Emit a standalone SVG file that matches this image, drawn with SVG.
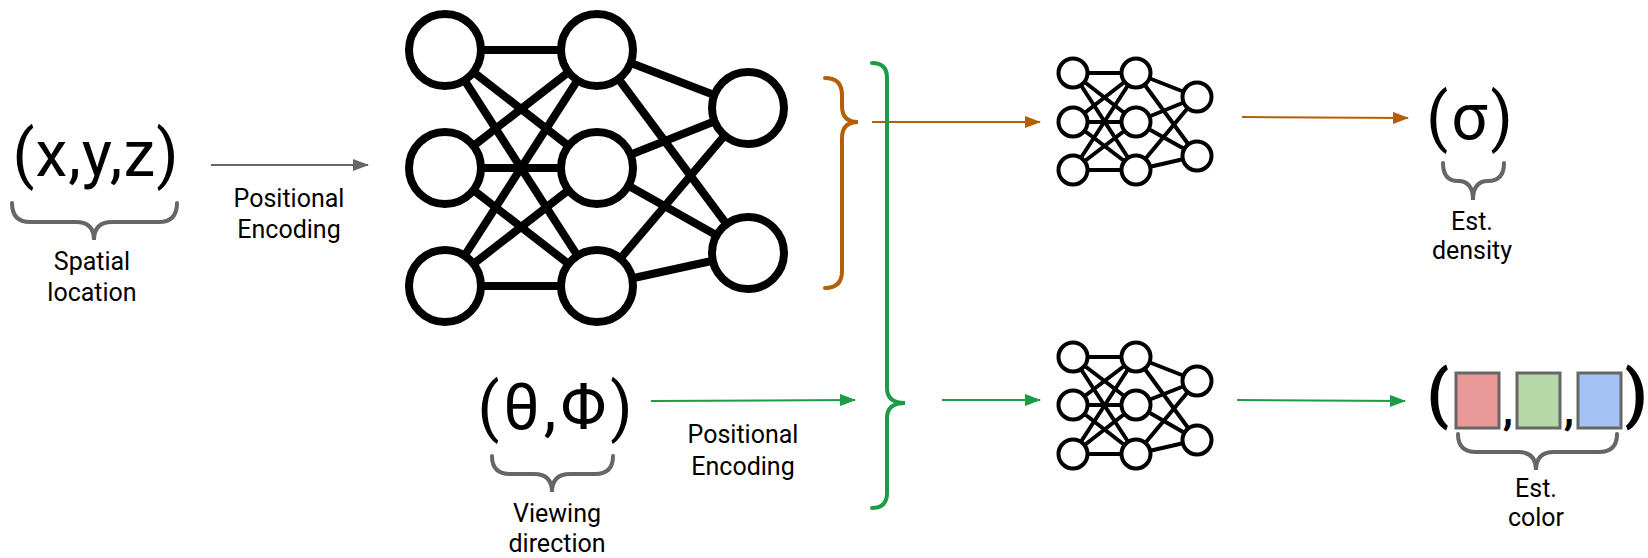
<svg xmlns="http://www.w3.org/2000/svg" width="1648" height="558" viewBox="0 0 1648 558">
<defs>
<style>
.t{font-family:Roboto,"Liberation Sans",sans-serif;fill:#000}
.big{font-size:64px}
.lbl{font-size:25px;text-anchor:middle}
.brace{fill:none;stroke:#666;stroke-width:4;stroke-linecap:round}
.bigE{stroke:#000;stroke-width:8}
.bigN{fill:#fff;stroke:#000;stroke-width:8}
.smE{stroke:#000;stroke-width:4}
.smN{fill:#fff;stroke:#000;stroke-width:4}
.gray{stroke:#666;stroke-width:2;fill:none}
.org{stroke:#b45f06;stroke-width:2;fill:none}
.grn{stroke:#1e9b45;stroke-width:2;fill:none}
.sq{stroke:#666;stroke-width:3}
</style>
<marker id="ag" markerUnits="userSpaceOnUse" markerWidth="16" markerHeight="12" refX="15" refY="6" orient="auto"><path d="M0,0 L16,6 L0,12 Z" fill="#666"/></marker>
<marker id="ao" markerUnits="userSpaceOnUse" markerWidth="16" markerHeight="12" refX="15" refY="6" orient="auto"><path d="M0,0 L16,6 L0,12 Z" fill="#b45f06"/></marker>
<marker id="agr" markerUnits="userSpaceOnUse" markerWidth="16" markerHeight="12" refX="15" refY="6" orient="auto"><path d="M0,0 L16,6 L0,12 Z" fill="#1e9b45"/></marker>
</defs>
<rect width="1648" height="558" fill="#fff"/>

<g id="connectors">
<line class="gray" x1="211" y1="165" x2="368" y2="165" marker-end="url(#ag)"/>
<line class="grn" x1="651" y1="401" x2="855" y2="400" marker-end="url(#agr)"/>
<line class="org" x1="872" y1="122" x2="1040" y2="122" marker-end="url(#ao)"/>
<line class="grn" x1="942" y1="400" x2="1040" y2="400" marker-end="url(#agr)"/>
<line class="org" x1="1242" y1="117" x2="1408" y2="118" marker-end="url(#ao)"/>
<line class="grn" x1="1237" y1="400" x2="1405" y2="401" marker-end="url(#agr)"/>
<text class="t lbl" x="289" y="207">Positional</text>
<text class="t lbl" x="289" y="238">Encoding</text>
<text class="t lbl" x="743" y="443">Positional</text>
<text class="t lbl" x="743" y="475">Encoding</text>
</g>

<g id="xyz">
<text class="t big" x="96" y="176" text-anchor="middle" letter-spacing="1">(x,y,z)</text>
<path class="brace" d="M12,203 Q12,222 30,222 L76,222 Q94,222 94,240 Q94,222 112,222 L159,222 Q177,222 177,203"/>
<text class="t lbl" x="92" y="270">Spatial</text>
<text class="t lbl" x="92" y="301">location</text>
</g>

<g id="big-network">
<g class="bigE">
<line x1="445" y1="50" x2="597" y2="50"/><line x1="445" y1="50" x2="597" y2="168"/><line x1="445" y1="50" x2="597" y2="286"/>
<line x1="445" y1="168" x2="597" y2="50"/><line x1="445" y1="168" x2="597" y2="168"/><line x1="445" y1="168" x2="597" y2="286"/>
<line x1="445" y1="286" x2="597" y2="50"/><line x1="445" y1="286" x2="597" y2="168"/><line x1="445" y1="286" x2="597" y2="286"/>
<line x1="597" y1="50" x2="748" y2="108"/><line x1="597" y1="50" x2="748" y2="253"/>
<line x1="597" y1="168" x2="748" y2="108"/><line x1="597" y1="168" x2="748" y2="253"/>
<line x1="597" y1="286" x2="748" y2="108"/><line x1="597" y1="286" x2="748" y2="253"/>
</g>
<circle class="bigN" cx="445" cy="50" r="36"/><circle class="bigN" cx="445" cy="168" r="36"/><circle class="bigN" cx="445" cy="286" r="36"/>
<circle class="bigN" cx="597" cy="50" r="36"/><circle class="bigN" cx="597" cy="168" r="36"/><circle class="bigN" cx="597" cy="286" r="36"/>
<circle class="bigN" cx="748" cy="108" r="36"/><circle class="bigN" cx="748" cy="253" r="36"/>
</g>

<g id="theta-phi">
<text class="t big" x="557" y="429" text-anchor="middle" letter-spacing="4">(θ,Φ)</text>
<path class="brace" d="M492,456 Q492,474 510,474 L534,474 Q552,474 552,492 Q552,474 570,474 L595,474 Q613,474 613,456"/>
<text class="t lbl" x="557" y="522">Viewing</text>
<text class="t lbl" x="557" y="552">direction</text>
</g>

<g id="orange-brace">
<path d="M825,78 Q842,78 842,95 L842,106 Q842,122 858,122 Q842,122 842,138 L842,271 Q842,288 825,288" fill="none" stroke="#b45f06" stroke-width="4" stroke-linecap="round"/>
</g>
<g id="green-brace">
<path d="M872,63 Q887,63 887,78 L887,388 Q887,403 905,403 Q887,403 887,418 L887,493 Q887,508 872,508" fill="none" stroke="#1e9b45" stroke-width="4" stroke-linecap="round"/>
</g>

<g id="density-network">
<g class="smE">
<line x1="1073" y1="73" x2="1136" y2="73"/><line x1="1073" y1="73" x2="1136" y2="122"/><line x1="1073" y1="73" x2="1136" y2="170"/>
<line x1="1073" y1="122" x2="1136" y2="73"/><line x1="1073" y1="122" x2="1136" y2="122"/><line x1="1073" y1="122" x2="1136" y2="170"/>
<line x1="1073" y1="170" x2="1136" y2="73"/><line x1="1073" y1="170" x2="1136" y2="122"/><line x1="1073" y1="170" x2="1136" y2="170"/>
<line x1="1136" y1="73" x2="1197" y2="97"/><line x1="1136" y1="73" x2="1197" y2="156"/>
<line x1="1136" y1="122" x2="1197" y2="97"/><line x1="1136" y1="122" x2="1197" y2="156"/>
<line x1="1136" y1="170" x2="1197" y2="97"/><line x1="1136" y1="170" x2="1197" y2="156"/>
</g>
<circle class="smN" cx="1073" cy="73" r="14.5"/><circle class="smN" cx="1073" cy="122" r="14.5"/><circle class="smN" cx="1073" cy="170" r="14.5"/>
<circle class="smN" cx="1136" cy="73" r="14.5"/><circle class="smN" cx="1136" cy="122" r="14.5"/><circle class="smN" cx="1136" cy="170" r="14.5"/>
<circle class="smN" cx="1197" cy="97" r="14.5"/><circle class="smN" cx="1197" cy="156" r="14.5"/>
</g>

<g id="color-network">
<g class="smE">
<line x1="1073" y1="357" x2="1136" y2="357"/><line x1="1073" y1="357" x2="1136" y2="405"/><line x1="1073" y1="357" x2="1136" y2="454"/>
<line x1="1073" y1="405" x2="1136" y2="357"/><line x1="1073" y1="405" x2="1136" y2="405"/><line x1="1073" y1="405" x2="1136" y2="454"/>
<line x1="1073" y1="454" x2="1136" y2="357"/><line x1="1073" y1="454" x2="1136" y2="405"/><line x1="1073" y1="454" x2="1136" y2="454"/>
<line x1="1136" y1="357" x2="1197" y2="381"/><line x1="1136" y1="357" x2="1197" y2="440"/>
<line x1="1136" y1="405" x2="1197" y2="381"/><line x1="1136" y1="405" x2="1197" y2="440"/>
<line x1="1136" y1="454" x2="1197" y2="381"/><line x1="1136" y1="454" x2="1197" y2="440"/>
</g>
<circle class="smN" cx="1073" cy="357" r="14.5"/><circle class="smN" cx="1073" cy="405" r="14.5"/><circle class="smN" cx="1073" cy="454" r="14.5"/>
<circle class="smN" cx="1136" cy="357" r="14.5"/><circle class="smN" cx="1136" cy="405" r="14.5"/><circle class="smN" cx="1136" cy="454" r="14.5"/>
<circle class="smN" cx="1197" cy="381" r="14.5"/><circle class="smN" cx="1197" cy="440" r="14.5"/>
</g>

<g id="sigma">
<text class="t big" x="1471" y="139" text-anchor="middle" letter-spacing="3">(σ)</text>
<path class="brace" d="M1443,163 Q1443,181 1458,181 Q1473,181 1473,200 Q1473,181 1488,181 Q1504,181 1504,163"/>
<text class="t lbl" x="1472" y="230">Est.</text>
<text class="t lbl" x="1472" y="259">density</text>
</g>

<g id="rgb">
<text class="t big" x="1438" y="416" text-anchor="middle" font-weight="bold">(</text>
<text class="t big" x="1636" y="416" text-anchor="middle" font-weight="bold">)</text>
<rect class="sq" x="1456" y="373" width="43" height="55" fill="#ea9999"/>
<rect class="sq" x="1517" y="373" width="43" height="55" fill="#b6d7a8"/>
<rect class="sq" x="1578" y="373" width="43" height="55" fill="#a4c2f4"/>
<text class="t" x="1508" y="424" font-size="42" font-weight="bold" text-anchor="middle">,</text>
<text class="t" x="1569" y="424" font-size="42" font-weight="bold" text-anchor="middle">,</text>
<path class="brace" d="M1458,434 Q1458,452 1476,452 L1518,452 Q1536,452 1536,470 Q1536,452 1554,452 L1599,452 Q1617,452 1617,434"/>
<text class="t lbl" x="1536" y="497">Est.</text>
<text class="t lbl" x="1536" y="526">color</text>
</g>
</svg>
